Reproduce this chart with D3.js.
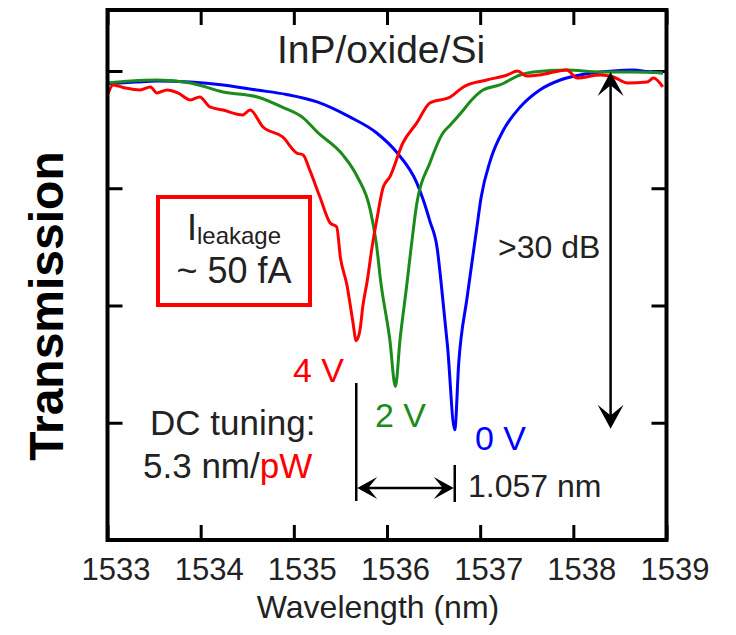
<!DOCTYPE html>
<html>
<head>
<meta charset="utf-8">
<script src="https://cdn.jsdelivr.net/npm/d3@7"></script>
<style>
  html, body { margin: 0; padding: 0; background: #fff; }
  svg { display: block; font-family: "Liberation Sans", Arial, sans-serif; }
</style>
</head>
<body>
<svg id="chart" width="736" height="635"></svg>
<script>
// Axis ticks
const wavelengthTicks = [1533, 1534, 1535, 1536, 1537, 1538, 1539];
const dbTicks = [-40, -30, -20, -10, 0];

// Resonance dips (nm) and the tuning shift between 4 V and 0 V
const dip4V = 1535.67;
const shiftNm = 1.057;
const dip0V = dip4V + shiftNm;
const depth0V = -30.6;

// Transmission spectra: [wavelength (nm), transmission (dB)]
const blue0V = [
  [1533.00, -1.10], [1533.30, -0.95], [1533.53, -0.85], [1533.89, -0.94],
  [1534.24, -1.19], [1534.60, -1.62], [1534.92, -2.00], [1535.25, -2.64],
  [1535.60, -3.92], [1535.89, -5.29], [1536.11, -6.99], [1536.32, -9.55],
  [1536.46, -12.8], [1536.54, -15.2], [1536.58, -18.0], [1536.65, -23.5],
  [1536.727, -30.6], [1536.77, -24.9], [1536.86, -19.3], [1536.96, -13.6],
  [1537.01, -10.8], [1537.11, -7.6], [1537.25, -5.03], [1537.43, -3.07],
  [1537.64, -1.62], [1537.86, -0.77], [1538.07, -0.34], [1538.29, -0.09],
  [1538.50, 0.05], [1538.64, 0.09], [1538.80, -0.05], [1538.96, -0.17]
];

const green2V = [
  [1533.00, -1.02], [1533.25, -0.85], [1533.53, -0.77], [1533.89, -1.02],
  [1534.24, -1.79], [1534.61, -2.22], [1534.88, -3.10], [1535.10, -4.00],
  [1535.25, -5.20], [1535.53, -7.20], [1535.68, -9.00], [1535.82, -11.85],
  [1535.89, -15.0], [1535.93, -17.8], [1536.03, -22.9], [1536.09, -26.9],
  [1536.14, -22.9], [1536.21, -18.4], [1536.26, -15.0], [1536.32, -11.3],
  [1536.46, -7.85], [1536.60, -5.29], [1536.68, -4.60], [1536.82, -3.33],
  [1536.88, -2.73], [1537.03, -1.62], [1537.21, -1.19], [1537.43, -0.34],
  [1537.57, -0.09], [1537.93, 0.09], [1538.29, -0.09], [1538.64, -0.09],
  [1538.96, -0.17]
];

const red4V = [
  [1533.00, -2.05], [1533.06, -1.19], [1533.19, -1.45], [1533.35, -1.62],
  [1533.46, -1.36], [1533.53, -1.88], [1533.64, -1.62], [1533.76, -1.88],
  [1533.89, -2.47], [1533.99, -2.22], [1534.10, -3.07], [1534.24, -3.33],
  [1534.45, -3.75], [1534.53, -3.33], [1534.67, -4.78], [1534.88, -5.63],
  [1535.03, -6.99], [1535.10, -7.16], [1535.17, -8.44], [1535.28, -10.75],
  [1535.39, -12.96], [1535.46, -13.30], [1535.50, -15.9], [1535.57, -18.25],
  [1535.63, -21.2], [1535.67, -23.0], [1535.71, -22.1], [1535.74, -20.1],
  [1535.79, -17.8], [1535.84, -15.0], [1535.89, -12.7], [1535.96, -9.89],
  [1536.03, -9.04], [1536.17, -6.14], [1536.32, -4.43], [1536.46, -2.73],
  [1536.68, -2.22], [1536.82, -1.36], [1537.07, -0.77], [1537.29, -0.34],
  [1537.40, 0.00], [1537.50, -0.43], [1537.64, -0.34], [1537.93, 0.09],
  [1538.04, -0.60], [1538.29, -0.34], [1538.43, -0.51], [1538.58, -1.02],
  [1538.79, -0.94], [1538.86, -0.60], [1538.96, -1.36]
];

const series = [
  { name: "0 V", data: blue0V, color: "#0000ff" },
  { name: "2 V", data: green2V, color: "#1b8c1b" },
  { name: "4 V", data: red4V, color: "#ff0000" }
];

const svg = d3.select("#chart");
const plotLeft = 107.5, plotRight = 666.5, plotTop = 10, plotBottom = 540;

const x = d3.scaleLinear().domain([1533, 1539]).range([plotLeft, plotRight]);
const y = d3.scaleLinear().domain([-40, 5.2]).range([plotBottom, plotTop]);

const textColor = "#222";

// Inward ticks on all four sides
function styleAxis(g) {
  g.select(".domain").remove();
  g.selectAll(".tick line").attr("stroke", "#000").attr("stroke-width", 3);
}

svg.append("g")
  .attr("transform", `translate(0,${plotBottom})`)
  .call(d3.axisBottom(x).tickValues(wavelengthTicks).tickSizeInner(-15).tickSizeOuter(0).tickFormat(d3.format("d")))
  .call(styleAxis)
  .call(g => g.selectAll(".tick text")
    .attr("y", 40).attr("dy", null).attr("x", 8)
    .attr("font-size", 31)
    .attr("font-family", "Liberation Sans, Arial, sans-serif")
    .attr("fill", textColor));

svg.append("g")
  .attr("transform", `translate(0,${plotTop})`)
  .call(d3.axisTop(x).tickValues(wavelengthTicks).tickSizeInner(-15).tickSizeOuter(0).tickFormat(""))
  .call(styleAxis);

svg.append("g")
  .attr("transform", `translate(${plotLeft},0)`)
  .call(d3.axisLeft(y).tickValues(dbTicks).tickSizeInner(-15).tickSizeOuter(0).tickFormat(""))
  .call(styleAxis);

svg.append("g")
  .attr("transform", `translate(${plotRight},0)`)
  .call(d3.axisRight(y).tickValues(dbTicks).tickSizeInner(-15).tickSizeOuter(0).tickFormat(""))
  .call(styleAxis);

// Spectra
const line = d3.line()
  .x(d => x(d[0]))
  .y(d => y(d[1]))
  .curve(d3.curveMonotoneX);

svg.append("g").selectAll("path")
  .data(series)
  .join("path")
  .attr("d", d => line(d.data))
  .attr("fill", "none")
  .attr("stroke", d => d.color)
  .attr("stroke-width", 3)
  .attr("stroke-linejoin", "round");

// Plot frame
svg.append("rect")
  .attr("x", plotLeft).attr("y", plotTop)
  .attr("width", plotRight - plotLeft).attr("height", plotBottom - plotTop)
  .attr("fill", "none").attr("stroke", "#000").attr("stroke-width", 4);

// Axis titles
svg.append("text")
  .attr("x", 378).attr("y", 618)
  .attr("text-anchor", "middle")
  .attr("font-size", 32)
  .attr("fill", textColor)
  .text("Wavelength (nm)");

svg.append("text")
  .attr("transform", "translate(63,306) rotate(-90)")
  .attr("text-anchor", "middle")
  .attr("font-size", 48)
  .attr("font-weight", "bold")
  .attr("fill", "#000")
  .text("Transmission");

// Structure label
svg.append("text")
  .attr("x", 381).attr("y", 63)
  .attr("text-anchor", "middle")
  .attr("font-size", 39)
  .attr("fill", textColor)
  .text("InP/oxide/Si");

// Leakage current box
svg.append("rect")
  .attr("x", 158).attr("y", 197).attr("width", 152).attr("height", 108)
  .attr("fill", "none").attr("stroke", "#ff0000").attr("stroke-width", 4);

const leak = svg.append("text")
  .attr("x", 234).attr("y", 240)
  .attr("text-anchor", "middle")
  .attr("fill", textColor);
leak.append("tspan").attr("font-size", 36).text("I");
leak.append("tspan").attr("font-size", 24).attr("dy", 4).text("leakage");

svg.append("text")
  .attr("x", 234).attr("y", 283)
  .attr("text-anchor", "middle")
  .attr("font-size", 36)
  .attr("fill", textColor)
  .text("~ 50 fA");

// Voltage labels
svg.append("text").attr("x", 293).attr("y", 382).attr("font-size", 34)
  .attr("fill", "#ff0000").text("4 V");
svg.append("text").attr("x", 375).attr("y", 427).attr("font-size", 34)
  .attr("fill", "#1b8c1b").text("2 V");
svg.append("text").attr("x", 475).attr("y", 450).attr("font-size", 34)
  .attr("fill", "#0000ff").text("0 V");

// DC tuning note
svg.append("text").attr("x", 150).attr("y", 435).attr("font-size", 35)
  .attr("fill", textColor).text("DC tuning:");
const tune = svg.append("text").attr("x", 143).attr("y", 478).attr("font-size", 35)
  .attr("fill", textColor);
tune.append("tspan").text("5.3 nm/");
tune.append("tspan").attr("fill", "#ff0000").text("pW");

// Arrowhead (stealth chevron) pointing along angle (radians)
function arrowHead(tx, ty, angle, len, half) {
  const notch = len * 0.55;
  const pts = [[0, 0], [-len, -half], [-notch, 0], [-len, half]];
  const c = Math.cos(angle), s = Math.sin(angle);
  const p = pts.map(([px, py]) => [tx + px * c - py * s, ty + px * s + py * c]);
  svg.append("path")
    .attr("d", "M" + p.map(q => q.join(",")).join("L") + "Z")
    .attr("fill", "#000");
}

// Shift marker between the 4 V and 0 V dips
const xa = x(dip4V), xb = x(dip0V), ya = 488;
svg.append("line").attr("x1", xa).attr("x2", xa).attr("y1", 383).attr("y2", 501)
  .attr("stroke", "#000").attr("stroke-width", 2.5);
svg.append("line").attr("x1", xb).attr("x2", xb).attr("y1", 465).attr("y2", 502)
  .attr("stroke", "#000").attr("stroke-width", 2.5);
svg.append("line").attr("x1", xa + 6).attr("x2", xb - 6).attr("y1", ya).attr("y2", ya)
  .attr("stroke", "#000").attr("stroke-width", 2.5);
arrowHead(xa + 1, ya, Math.PI, 20, 11);
arrowHead(xb - 1, ya, 0, 20, 11);

svg.append("text").attr("x", 468).attr("y", 497).attr("font-size", 32)
  .attr("fill", textColor).text(shiftNm.toFixed(3) + " nm");

// Extinction ratio arrow
const xv = x(1538.4), yTop = y(0), yBot = y(depth0V);
svg.append("line").attr("x1", xv).attr("x2", xv).attr("y1", yTop + 8).attr("y2", yBot - 8)
  .attr("stroke", "#000").attr("stroke-width", 2.5);
arrowHead(xv, yTop + 1, -Math.PI / 2, 24, 13);
arrowHead(xv, yBot - 1, Math.PI / 2, 24, 13);

svg.append("text").attr("x", 498).attr("y", 258).attr("font-size", 32)
  .attr("fill", textColor).text(">30 dB");
</script>
</body>
</html>
